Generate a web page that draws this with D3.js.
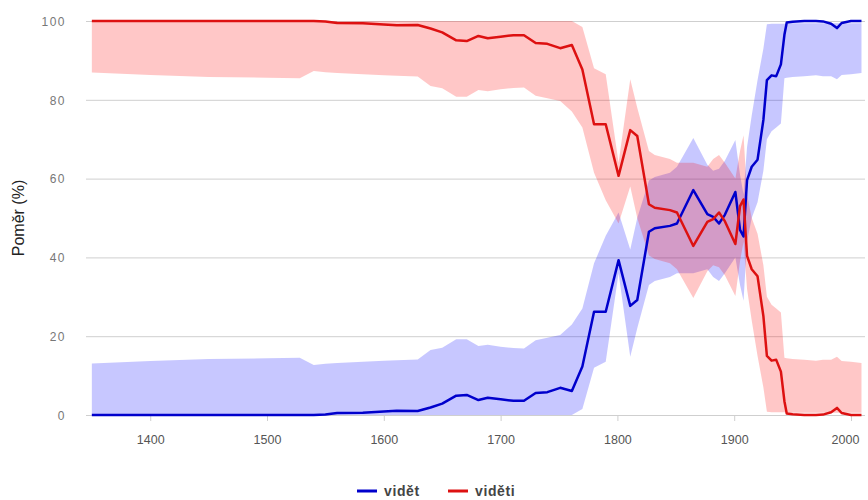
<!DOCTYPE html>
<html>
<head>
<meta charset="utf-8">
<script src="https://cdn.jsdelivr.net/npm/d3@7"></script>
<style>
    body { margin: 0; background: #fff; }
    .axis text { font-family: "Liberation Sans", Arial, sans-serif; }
    .legend text { font-family: "Liberation Sans", Arial, sans-serif; }
</style>
</head>
<body>
<div id="chart"></div>
<script>

// years
const years = [1350, 1400, 1450, 1500, 1528, 1540, 1550, 1560, 1582, 1600, 1611, 1629, 1640, 1650, 1662, 1671, 1681, 1689, 1700, 1711,
    1720, 1730, 1740, 1751, 1761, 1770, 1780, 1790, 1801, 1811, 1817, 1827, 1832, 1845, 1851, 1865, 1877, 1882, 1887, 1892,
    1901, 1905, 1908, 1911, 1915, 1920, 1925, 1928, 1932, 1936, 1940, 1943, 1945, 1950, 1960, 1970, 1976, 1983, 1988, 1992,
    2000, 2009];

// "vidět" share (%) and its band
const videt = [0, 0, 0, 0, 0, 0, 0.1, 0.5, 0.6, 0.9, 1.1, 1.0, 1.9, 2.9, 4.9, 5.1, 3.8, 4.4, 4.0, 3.6,
    3.6, 5.6, 5.8, 6.9, 6.1, 12.3, 26.2, 26.2, 39.3, 27.7, 29.2, 46.5, 47.4, 48.0, 48.6, 57.1, 51.0, 50.3, 48.6, 50.8,
    56.6, 47.0, 45.3, 59.6, 63.0, 64.8, 74.9, 85.0, 86.2, 86.0, 89.0, 96.5, 99.6, 99.8, 100, 100, 99.9, 99.3, 98.2, 99.5,
    100, 100];
const videtLow = [0, 0, 0, 0, 0, 0, 0, 0, 0, 0, 0, 0, 0, 0, 0, 0, 0, 0, 0, 0,
    0, 0, 0, 0, 0, 1.5, 12.0, 13.5, 36.0, 14.8, 22.0, 33.0, 34.0, 35.0, 36.0, 36.0, 37.0, 35.0, 34.0, 36.0,
    40.0, 33.0, 29.0, 44.0, 50.0, 54.0, 62.0, 70.0, 72.0, 73.0, 74.0, 85.5, 85.6, 85.8, 86.0, 86.2, 86.0, 86.0, 85.2, 86.3,
    86.5, 86.8];
const videtHigh = [13.1, 13.7, 14.2, 14.4, 14.5, 12.7, 13.0, 13.2, 13.5, 13.8, 13.9, 14.1, 16.5, 17.1, 19.2, 19.2, 17.5, 17.8, 17.3, 17.0,
    16.9, 19.0, 19.6, 20.3, 23.0, 27.0, 38.5, 45.5, 51.4, 42.0, 50.0, 59.5, 60.4, 61.5, 63.0, 70.3, 63.5, 62.0, 62.5, 64.5,
    69.8, 61.0, 56.0, 68.0, 76.0, 85.0, 93.0, 99.2, 99.3, 99.3, 99.3, 99.3, 99.4, 99.4, 99.4, 99.4, 99.4, 99.4, 99.4, 99.4,
    99.4, 99.4];

// "viděti" share (%) and its band
const videti = [100, 100, 100, 100, 100, 100, 99.9, 99.5, 99.4, 99.1, 98.9, 99.0, 98.1, 97.1, 95.1, 94.9, 96.2, 95.6, 96.0, 96.4,
    96.4, 94.4, 94.2, 93.1, 93.9, 87.7, 73.8, 73.8, 60.7, 72.3, 70.8, 53.5, 52.6, 52.0, 51.4, 42.9, 49.0, 49.7, 51.4, 49.2,
    43.4, 53.0, 54.7, 40.4, 37.0, 35.2, 25.1, 15.0, 13.8, 14.0, 11.0, 3.5, 0.4, 0.2, 0, 0, 0.1, 0.7, 1.8, 0.5,
    0, 0];
const videtiLow = [86.9, 86.3, 85.8, 85.6, 85.5, 87.3, 87.0, 86.8, 86.5, 86.2, 86.1, 85.9, 83.5, 82.9, 80.8, 80.8, 82.5, 82.2, 82.7, 83.0,
    83.1, 81.0, 80.4, 79.7, 77.0, 73.0, 61.5, 54.5, 48.6, 58.0, 50.0, 40.5, 39.6, 38.5, 37.0, 29.7, 36.5, 38.0, 37.5, 35.5,
    30.2, 39.0, 44.0, 32.0, 24.0, 15.0, 7.0, 0.8, 0.7, 0.7, 0.7, 0.7, 0.6, 0.6, 0.6, 0.6, 0.6, 0.6, 0.6, 0.6,
    0.6, 0.6];
const videtiHigh = [100, 100, 100, 100, 100, 100, 100, 100, 100, 100, 100, 100, 100, 100, 100, 100, 100, 100, 100, 100,
    100, 100, 100, 100, 100, 98.5, 88.0, 86.5, 64.0, 85.2, 78.0, 67.0, 66.0, 65.0, 64.0, 64.0, 63.0, 65.0, 66.0, 64.0,
    60.0, 67.0, 71.0, 56.0, 50.0, 46.0, 38.0, 30.0, 28.0, 27.0, 26.0, 14.5, 14.4, 14.2, 14.0, 13.8, 14.0, 14.0, 14.8, 13.7,
    13.5, 13.2];

const yTicks = [0, 20, 40, 60, 80, 100];
const xTicks = [1400, 1500, 1600, 1700, 1800, 1900, 2000];
const seriesNames = ["vidět", "viděti"];


class BandChart {

    constructor(parentElement) {
        this.parentElement = parentElement;
        this.initVis();
    }

    initVis() {
        let vis = this;

        vis.width = 868;
        vis.height = 500;
        vis.left = 86;
        vis.right = 865;
        vis.top = 21;
        vis.bottom = 415;

        vis.svg = d3.select("#" + vis.parentElement).append("svg")
            .attr("width", vis.width)
            .attr("height", vis.height);

        vis.x = d3.scaleLinear()
            .domain([1345, 2012])
            .range([vis.left, vis.right]);
        vis.y = d3.scaleLinear()
            .domain([0, 100])
            .range([vis.bottom, vis.top]);

        vis.colors = d3.scaleOrdinal()
            .domain(seriesNames)
            .range(["#0000cc", "#dd1111"]);
        vis.bandColors = d3.scaleOrdinal()
            .domain(seriesNames)
            .range(["#0000ff", "#ff0000"]);

        vis.wrangleData();
    }

    wrangleData() {
        let vis = this;

        vis.displayData = [
            {name: "vidět", values: years.map((yr, i) => ({year: yr, v: videt[i], lo: videtLow[i], hi: videtHigh[i]}))},
            {name: "viděti", values: years.map((yr, i) => ({year: yr, v: videti[i], lo: videtiLow[i], hi: videtiHigh[i]}))}
        ];

        vis.updateVis();
    }

    updateVis() {
        let vis = this;

        // grid + y labels
        let yAxis = d3.axisLeft(vis.y)
            .tickValues(yTicks)
            .tickSize(-(vis.right - vis.left))
            .tickPadding(20);

        let gy = vis.svg.append("g")
            .attr("class", "y-axis axis")
            .attr("transform", "translate(" + vis.left + ",0)")
            .call(yAxis);
        gy.select(".domain").remove();
        gy.selectAll("line").attr("stroke", "#cfcfcf");
        gy.selectAll("text")
            .attr("fill", "#777")
            .style("font-size", "12px")
            .style("letter-spacing", "1.5px")
            .attr("dy", "0.35em");

        // x axis ticks
        let xAxis = d3.axisBottom(vis.x)
            .tickValues(xTicks)
            .tickFormat(d3.format("d"))
            .tickSize(6)
            .tickPadding(14);

        let gx = vis.svg.append("g")
            .attr("class", "x-axis axis")
            .attr("transform", "translate(0," + vis.bottom + ")")
            .call(xAxis);
        gx.select(".domain").remove();
        gx.selectAll("line").attr("stroke", "#cfcfcf");
        gx.selectAll("text")
            .attr("fill", "#555")
            .style("font-size", "12.5px");
        // last label sits against the right edge
        gx.selectAll("text").filter(d => d === 2000).attr("dx", "-6");

        // bands
        let area = d3.area()
            .x(d => vis.x(d.year))
            .y0(d => vis.y(d.lo))
            .y1(d => vis.y(d.hi));

        vis.svg.selectAll("path.band")
            .data(vis.displayData)
            .enter()
            .append("path")
            .attr("class", "band")
            .attr("d", d => area(d.values))
            .attr("fill", d => vis.bandColors(d.name))
            .attr("fill-opacity", 0.22)
            .attr("stroke", "none");

        // lines
        let line = d3.line()
            .x(d => vis.x(d.year))
            .y(d => vis.y(d.v));

        vis.svg.selectAll("path.series")
            .data(vis.displayData)
            .enter()
            .append("path")
            .attr("class", "series")
            .attr("d", d => line(d.values))
            .attr("fill", "none")
            .attr("stroke", d => vis.colors(d.name))
            .attr("stroke-width", 2.5)
            .attr("stroke-linejoin", "round");

        // y title
        vis.svg.append("text")
            .attr("transform", "translate(24,218) rotate(-90)")
            .attr("text-anchor", "middle")
            .style("font-family", "'Liberation Sans', Arial, sans-serif")
            .style("font-size", "16px")
            .attr("fill", "#222")
            .text("Poměr (%)");

        // legend
        let legend = vis.svg.append("g")
            .attr("class", "legend")
            .attr("transform", "translate(0,491)");

        let items = legend.selectAll("g.item")
            .data(seriesNames)
            .enter()
            .append("g")
            .attr("class", "item")
            .attr("transform", (d, i) => "translate(" + [357, 448][i] + ",0)");

        items.append("line")
            .attr("x1", 0)
            .attr("x2", 20)
            .attr("stroke", d => vis.colors(d))
            .attr("stroke-width", 3);

        items.append("text")
            .attr("x", 27)
            .attr("dy", "0.35em")
            .attr("fill", "#444")
            .style("font-size", "14px")
            .style("font-weight", "bold")
            .style("letter-spacing", "0.6px")
            .text(d => d);
    }
}

let chart = new BandChart("chart");

</script>
</body>
</html>
